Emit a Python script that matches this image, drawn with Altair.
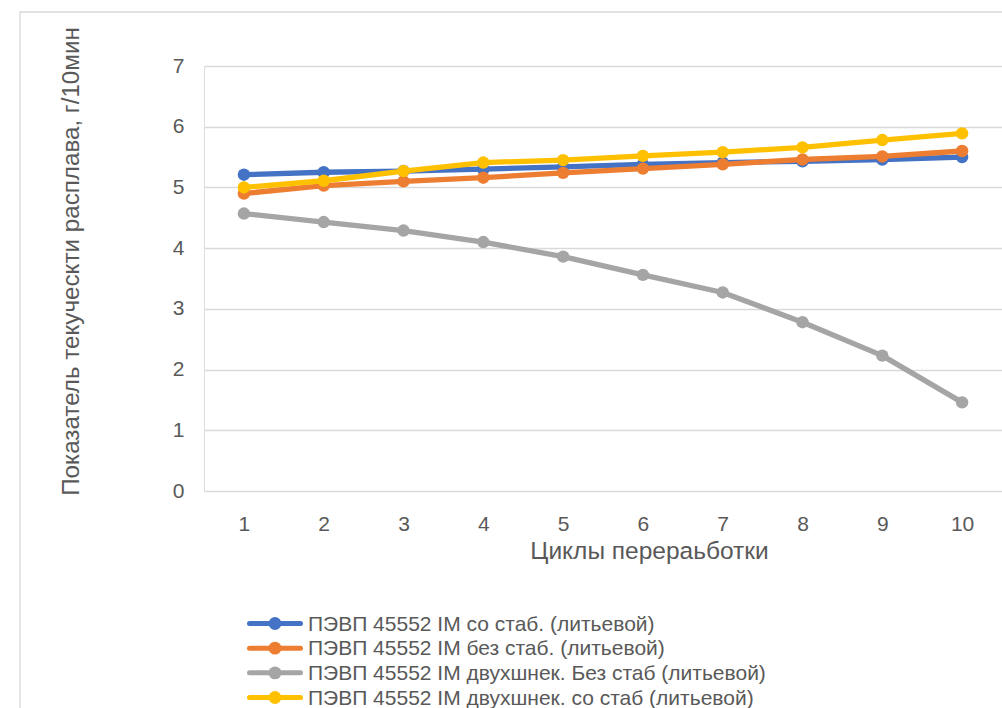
import altair as alt
import pandas as pd

cycles = [1, 2, 3, 4, 5, 6, 7, 8, 9, 10]
series_names = [
    "ПЭВП 45552 IM со стаб. (литьевой)",
    "ПЭВП 45552 IM без стаб. (литьевой)",
    "ПЭВП 45552 IM двухшнек. Без стаб (литьевой)",
    "ПЭВП 45552 IM двухшнек. со стаб (литьевой)",
]
colors = ["#4472C4", "#ED7D31", "#A5A5A5", "#FFC000"]
blue = [5.21, 5.25, 5.27, 5.30, 5.34, 5.38, 5.41, 5.43, 5.46, 5.50]
orange = [4.90, 5.03, 5.10, 5.16, 5.24, 5.31, 5.38, 5.46, 5.51, 5.60]
gray = [4.57, 4.43, 4.29, 4.10, 3.86, 3.56, 3.27, 2.78, 2.23, 1.46]
yellow = [5.00, 5.11, 5.27, 5.41, 5.45, 5.52, 5.58, 5.66, 5.78, 5.89]
y_ticks = [0, 1, 2, 3, 4, 5, 6, 7]
legend_order = [0, 1, 2, 3]

x_title = "Циклы перераьботки"
y_title = "Показатель текуческти расплава, г/10мин"

TEXT = "#595959"
GRID = "#d9d9d9"
FONT = "Liberation Sans"

all_values = [blue, orange, gray, yellow]

color_scale = alt.Scale(domain=series_names, range=colors)

x_enc = alt.X(
    "cycle:Q",
    scale=alt.Scale(domain=[0.5, 10.5], nice=False, zero=False),
    axis=alt.Axis(
        values=cycles, format="d", grid=False, ticks=False, tickSize=0, domain=False,
        labelFontSize=21, labelColor=TEXT, labelPadding=22, labelFont=FONT,
        title=x_title, titleFontSize=24.5, titleFontWeight="normal", titleColor=TEXT,
        titleFont=FONT, titleX=445, titleY=60, titleBaseline="middle", titleAlign="center",
    ),
)
y_enc = alt.Y(
    "value:Q",
    scale=alt.Scale(domain=[0, 7], nice=False, zero=True),
    axis=alt.Axis(
        values=y_ticks, format="d", grid=True, gridColor=GRID, gridWidth=1.3,
        ticks=False, tickSize=0, domain=False,
        labelFontSize=21, labelColor=TEXT, labelPadding=20, labelFont=FONT,
        title=y_title, titleFontSize=24.2, titleFontWeight="normal", titleColor=TEXT,
        titleFont=FONT, titleX=-133, titleY=195, titleBaseline="middle", titleAlign="center",
        titleAngle=270,
    ),
)

# outer chart frame
frame = alt.Chart(pd.DataFrame({"k": [0]})).mark_rect(
    fillOpacity=0, stroke=GRID, strokeWidth=1.3
).encode(
    x=alt.value(-184), x2=alt.value(830), y=alt.value(-54), y2=alt.value(720)
)

# data series
series_layers = []
for name, vals in zip(series_names, all_values):
    df = pd.DataFrame({"cycle": cycles, "value": vals, "series": [name] * len(cycles)})
    base = alt.Chart(df)
    line = base.mark_line(strokeWidth=5.3, strokeJoin="round", strokeCap="round").encode(
        x=x_enc, y=y_enc,
        color=alt.Color("series:N", scale=color_scale, legend=None),
    )
    pts = base.mark_point(filled=True, size=155, opacity=1).encode(
        x=x_enc, y=y_enc,
        color=alt.Color("series:N", scale=color_scale, legend=None),
    )
    series_layers += [line, pts]
data_layer = alt.layer(*series_layers)

# legend (line + marker + label per series), placed below the plot
leg_df = pd.DataFrame({"series": series_names, "order": legend_order})
leg_y = alt.Y("order:Q", scale=alt.Scale(domain=[0, 3], range=[557.5, 631.5], nice=False, zero=False), axis=None)
leg_color = alt.Color("series:N", scale=color_scale, legend=None)
leg_base = alt.Chart(leg_df)
leg_rule = leg_base.mark_rule(strokeWidth=5, strokeCap="round").encode(
    x=alt.value(45.5), x2=alt.value(96.5), y=leg_y, color=leg_color
)
leg_pt = leg_base.mark_point(filled=True, size=165, opacity=1).encode(
    x=alt.value(71), y=leg_y, color=leg_color
)
leg_txt = leg_base.mark_text(
    align="left", baseline="middle", fontSize=21, font=FONT, color=TEXT, dy=1
).encode(x=alt.value(104), y=leg_y, text="series:N")
legend_layer = alt.layer(leg_rule, leg_pt, leg_txt)

chart = alt.layer(frame, data_layer, legend_layer).resolve_scale(
    y="independent"
).properties(
    width=798, height=425,
    padding={"left": 204, "top": 66, "right": 0, "bottom": 217},
    autosize=alt.AutoSizeParams(type="none"),
    background="white",
).configure_view(strokeWidth=0).configure(font=FONT)

chart.save("out.html", embed_options={"renderer": "svg", "actions": False})
